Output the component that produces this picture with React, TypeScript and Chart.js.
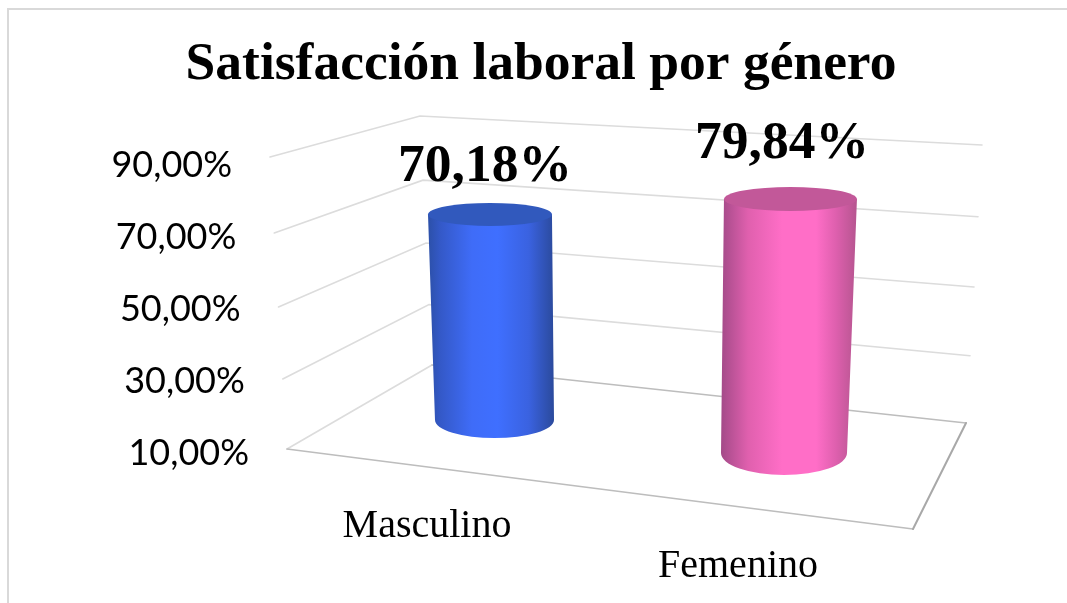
import React, { useEffect, useRef } from "react";
import { Chart, registerables } from "chart.js";

Chart.register(...registerables);

const titleText = "Satisfacción laboral por género";
const categories = ["Masculino", "Femenino"];
const values = [70.18, 79.84];
const valueLabels = ["70,18%", "79,84%"];
const yTicks = [10, 30, 50, 70, 90];

// Perspective of the 3-D floor and walls along the value axis (min, max, bow)
const wall = {
  leftX: [287, 270, 0], leftY: [449, 157, 16],
  cornerX: [432, 420, 0], cornerY: [365, 116, 10],
  rightX: [966, 982, 0], rightY: [423, 145, 12],
  front: [913, 529],
};
// Cylinder projection for each category: at value min (0) and value max (1)
const cyl = [
  { x: [494.5, 488.5], y: [420, 146.7], rx: [59.5, 62.8], ry: [18, 9.4], lx: -5, ly: -33.5, catX: 427, catY: 537 },
  { x: [784, 791.4], y: [453, 162], rx: [63, 67], ry: [22, 10.5], lx: -8.5, ly: -41, catX: 738, catY: 577 },
];
const shades = [
  { stops: [[0, "#2c50a8"], [0.1, "#3459c8"], [0.35, "#3f6cf8"], [0.55, "#3f6fff"], [0.8, "#3a62e0"], [1, "#2b4a9c"]], cap: "#3159bd" },
  { stops: [[0, "#a34a88"], [0.2, "#e060ae"], [0.45, "#ff6ec7"], [0.7, "#ff6ec7"], [0.85, "#dd5fad"], [1, "#b5558f"]], cap: "#c25899" },
];

const mix = (p: number[], t: number) => p[0] + (p[1] - p[0]) * t + (p[2] || 0) * t * (1 - t);

const scene3d = {
  id: "scene3d",
  beforeDraw(chart: any) {
    const c = chart.ctx;
    c.save();
    c.fillStyle = "#fff";
    c.fillRect(0, 0, chart.width, chart.height);
    c.strokeStyle = "#d9d9d9";
    c.lineWidth = 2;
    c.beginPath();
    c.moveTo(8, 603);
    c.lineTo(8, 9);
    c.lineTo(1067, 9);
    c.stroke();
    c.restore();
  },
  beforeDatasetsDraw(chart: any) {
    const c = chart.ctx;
    const sc = chart.scales.y;
    const frac = (v: number) => (sc.getPixelForValue(sc.min) - sc.getPixelForValue(v)) / (sc.getPixelForValue(sc.min) - sc.getPixelForValue(sc.max));
    c.save();
    c.lineCap = "round";
    sc.ticks.forEach((tk: any) => {
      const t = frac(tk.value);
      const isFloor = tk.value === sc.min;
      c.strokeStyle = "#dcdcdc";
      c.lineWidth = 1.6;
      c.beginPath();
      c.moveTo(mix(wall.leftX, t), mix(wall.leftY, t));
      c.lineTo(mix(wall.cornerX, t), mix(wall.cornerY, t));
      if (!isFloor) c.lineTo(mix(wall.rightX, t), mix(wall.rightY, t));
      c.stroke();
      if (isFloor) {
        c.strokeStyle = "#bdbdbd";
        c.beginPath();
        c.moveTo(mix(wall.cornerX, t), mix(wall.cornerY, t));
        c.lineTo(mix(wall.rightX, t), mix(wall.rightY, t));
        c.stroke();
        c.beginPath();
        c.moveTo(mix(wall.leftX, t), mix(wall.leftY, t));
        c.lineTo(wall.front[0], wall.front[1]);
        c.stroke();
        c.strokeStyle = "#a8a8a8";
        c.lineWidth = 2;
        c.beginPath();
        c.moveTo(wall.front[0], wall.front[1]);
        c.lineTo(mix(wall.rightX, t), mix(wall.rightY, t));
        c.stroke();
      }
      c.fillStyle = "#000";
      c.font = "36px Lato";
      c.textAlign = "right";
      c.textBaseline = "middle";
      c.fillText(`${tk.value.toFixed(2).replace(".", ",")}%`, mix(wall.leftX, t) - 38, sc.getPixelForValue(tk.value) + 2);
    });

    const meta = chart.getDatasetMeta(0);
    meta.data.forEach((bar: any, i: number) => {
      const g = cyl[i];
      const s = shades[i];
      const t = frac(chart.data.datasets[0].data[i]);
      const bx = g.x[0], by = g.y[0], brx = g.rx[0], bry = g.ry[0];
      const tx = mix(g.x, t), ty = mix(g.y, t), trx = mix(g.rx, t), tRy = mix(g.ry, t);
      const left = Math.min(bx - brx, tx - trx);
      const right = Math.max(bx + brx, tx + trx);
      const grad = c.createLinearGradient(left, 0, right, 0);
      s.stops.forEach((st: any) => grad.addColorStop(st[0], st[1]));
      c.fillStyle = grad;
      c.beginPath();
      c.moveTo(tx - trx, ty);
      c.lineTo(bx - brx, by);
      c.ellipse(bx, by, brx, bry, 0, Math.PI, 0, true);
      c.lineTo(tx + trx, ty);
      c.closePath();
      c.fill();
      c.fillStyle = s.cap;
      c.beginPath();
      c.ellipse(tx, ty, trx, tRy, 0, 0, Math.PI * 2);
      c.fill();
      // value label
      c.fillStyle = "#000";
      c.font = "bold 53.5px 'Liberation Serif'";
      c.textAlign = "center";
      c.textBaseline = "alphabetic";
      c.fillText(valueLabels[i], tx + g.lx, ty + g.ly);
      // category label
      c.font = "40px 'Liberation Serif'";
      c.fillText(chart.data.labels[i], g.catX, g.catY);
    });
    c.restore();
  },
};

export default function App() {
  const ref = useRef<HTMLCanvasElement>(null);
  useEffect(() => {
    const chart = new Chart(ref.current!, {
      type: "bar",
      plugins: [scene3d],
      data: {
        labels: categories,
        datasets: [{ label: "Satisfacción", data: values, backgroundColor: "rgba(0,0,0,0)", borderWidth: 0 }],
      },
      options: {
        animation: false,
        responsive: false,
        layout: { padding: { left: 15, right: 0, top: 0, bottom: 152 } },
        plugins: {
          legend: { display: false },
          tooltip: { enabled: false },
          title: {
            display: true,
            text: titleText,
            color: "#000",
            font: { family: "'Liberation Serif'", size: 53.5, weight: "bold", lineHeight: 1.2 },
            padding: { top: 33.5, bottom: 65.3 },
          },
        },
        scales: {
          x: { display: false },
          y: { display: false, min: 10, max: 90, afterBuildTicks: (a: any) => { a.ticks = yTicks.map((value) => ({ value })); } },
        },
      },
    } as any);
    return () => chart.destroy();
  }, []);
  return (
    <div style={{ position: "fixed", left: 0, top: 0, width: 1067, height: 603, overflow: "hidden" }}>
      <canvas ref={ref} width={1067} height={603} style={{ display: "block" }} />
    </div>
  );
}
